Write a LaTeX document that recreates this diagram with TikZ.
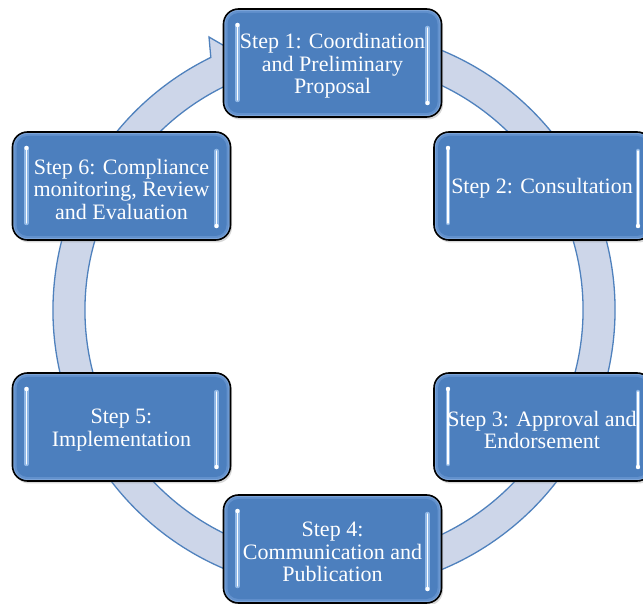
\documentclass[tikz,border=0pt]{standalone}
\usepackage{fontspec}
\setmainfont{Liberation Serif}
\usetikzlibrary{calc,shadows}
\definecolor{ringfill}{HTML}{CDD6E9}
\definecolor{ringline}{HTML}{4F81BD}
\definecolor{boxblue}{HTML}{4C7FBE}
\definecolor{boxrim}{HTML}{80A7DA}
\definecolor{boxmid}{HTML}{6291CD}
\definecolor{glowblue}{HTML}{A6CBF4}
\begin{document}
\begin{tikzpicture}[x=1pt,y=1pt,
  stepbox/.style={draw=black, line width=1.6pt, fill=boxrim, rounded corners=15pt,
    minimum width=218pt, minimum height=108pt, inner sep=0pt,
    drop shadow={opacity=0.3, shadow xshift=1.5pt, shadow yshift=-2.5pt},
    path picture={
      \fill[boxmid, rounded corners=13pt]
        ($(path picture bounding box.south west)+(1.8pt,1.8pt)$) rectangle
        ($(path picture bounding box.north east)+(-1.8pt,-1.8pt)$);
      \fill[boxblue, rounded corners=11pt]
        ($(path picture bounding box.south west)+(4pt,4pt)$) rectangle
        ($(path picture bounding box.north east)+(-4pt,-4pt)$);
      \draw[glowblue, line width=4.5pt, line cap=round, opacity=0.75]
        ($(path picture bounding box.north west)+(14pt,-16pt)$) --
        ($(path picture bounding box.south west)+(14pt,17pt)$);
      \draw[white, line width=1.4pt, line cap=round]
        ($(path picture bounding box.north west)+(14pt,-16pt)$) --
        ($(path picture bounding box.south west)+(14pt,17pt)$);
      \fill[white] ($(path picture bounding box.north west)+(14pt,-16pt)$) circle[radius=2.2pt];
      \draw[glowblue, line width=4.5pt, line cap=round, opacity=0.75]
        ($(path picture bounding box.north east)+(-14pt,-19pt)$) --
        ($(path picture bounding box.south east)+(-14pt,14pt)$);
      \draw[white, line width=1.4pt, line cap=round]
        ($(path picture bounding box.north east)+(-14pt,-19pt)$) --
        ($(path picture bounding box.south east)+(-14pt,14pt)$);
      \fill[white] ($(path picture bounding box.south east)+(-14pt,14pt)$) circle[radius=2.2pt];
    }},
  steptext/.style={text=white, align=center, font=\fontsize{22}{22.5}\selectfont, inner sep=0pt},
  ringstyle/.style={fill=ringfill, draw=ringline, line width=1.3pt, line join=miter}
]
\clip (0,0) rectangle (643,603);
\fill[white] (0,0) rectangle (643,603);
\coordinate (c) at (334,293);
\coordinate (barb) at (209,566);
\coordinate (tip) at (252,541);
\path[ringstyle]
  ($(c)+(80:281)$) arc[start angle=80, end angle=-244, radius=281]
  -- (barb) -- (tip) -- ($(c)+(114:249)$)
  arc[start angle=114, end angle=440, radius=249] -- cycle;
\node[stepbox] (s1) at (332.5,540) {};
\node[stepbox] (s2) at (543,417) {};
\node[stepbox] (s3) at (543,176) {};
\node[stepbox] (s4) at (332.5,54) {};
\node[stepbox] (s5) at (121.5,176) {};
\node[stepbox] (s6) at (121.5,417) {};
\node[steptext] (t1) at ($(s1)+(0,-3)$) {Step 1: Coordination\\and Preliminary\\Proposal};
\node[steptext] (t2) at ($(s2)+(-1,-2)$) {Step 2: Consultation};
\node[steptext] (t3) at ($(s3)+(-1,-3)$) {Step 3: Approval and\\Endorsement};
\node[steptext] (t4) at ($(s4)+(0,-3)$) {Step 4:\\Communication and\\Publication};
\node[steptext] (t5) at ($(s5)+(0,-3)$) {Step 5:\\Implementation};
\node[steptext] (t6) at ($(s6)+(0,-3)$) {Step 6: Compliance\\monitoring, Review\\and Evaluation};
\end{tikzpicture}
\end{document}
